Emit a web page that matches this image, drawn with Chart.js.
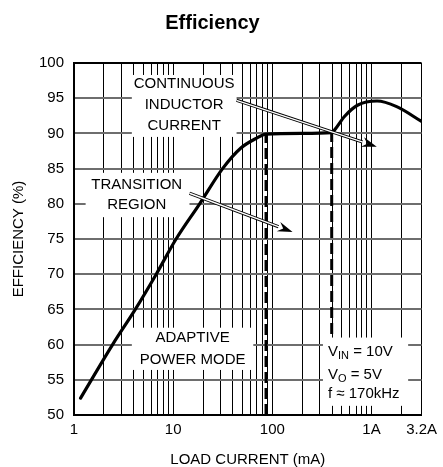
<!DOCTYPE html>
<html>
<head>
<meta charset="utf-8">
<script src="https://cdn.jsdelivr.net/npm/chart.js@4/dist/chart.umd.min.js"></script>
<style>
    html, body { margin: 0; padding: 0; background: #fff; }
</style>
</head>
<body>
<canvas id="effChart" width="443" height="467"></canvas>
<script>
// Efficiency curve, load current in mA
const loadCurrent = [1.165, 2.45, 4.15, 6.75, 10.7, 18.5, 31.5, 47.9, 68.8, 86.4, 200, 397, 425, 534, 722, 1138, 1795, 3200];
const efficiency  = [52.4, 60.0, 65.0, 70.0, 75.0, 80.0, 85.0, 87.9, 89.3, 89.9, 90.0, 90.1, 90.5, 92.4, 94.0, 94.6, 93.8, 91.7];

// Dashed mode boundaries: current (mA), bottom and top of each marker (%)
const modeEdges = [86.4, 397];
const edgeBottom = [50, 61.5];
const edgeTop = [89.9, 90.1];

// Log grid and the labelled ticks
const gridCurrents = [1, 2, 3, 4, 5, 6, 7, 8, 9, 10, 20, 30, 40, 50, 60, 70, 80, 90,
    100, 200, 300, 400, 500, 600, 700, 800, 900, 1000, 2000, 3200];
const xTickLabels = { 1: '1', 10: '10', 100: '100', 1000: '1A', 3200: '3.2A' };

const FONT = "'Liberation Sans', Arial, sans-serif";

// Annotation layout, given in chart units (mA, %)
const noteBoxes = [
    { x0: 3.83, x1: 43.6, y0: 89.5, y1: 98.3 },
    { x0: 1.31, x1: 14.6, y0: 78.1, y1: 84.4 },
    { x0: 3.83, x1: 64.3, y0: 56.4, y1: 62.4 },
    { x0: 324, x1: 2343, y0: 51.3, y1: 61.0 }
];
const noteLines = [
    { text: 'CONTINUOUS', x: 12.9, y: 97.1 },
    { text: 'INDUCTOR', x: 12.9, y: 94.0 },
    { text: 'CURRENT', x: 12.9, y: 91.1 },
    { text: 'TRANSITION', x: 4.29, y: 82.7 },
    { text: 'REGION', x: 4.29, y: 79.8 },
    { text: 'ADAPTIVE', x: 15.7, y: 60.9 },
    { text: 'POWER MODE', x: 15.7, y: 57.8 }
];
// left aligned condition block: [main, subscript, rest]
const condLines = [
    { parts: ['V', 'IN', ' = 10V'], y: 58.9 },
    { parts: ['V', 'O', ' = 5V'], y: 55.7 },
    { parts: ['f \u2248 170kHz', '', ''], y: 53.0 }
];
const condX = 364;
const noteArrows = [
    { from: [14.6, 81.5], to: [160, 76.0] },
    { from: [43.6, 94.7], to: [1130, 88.1] }
];

const annotations = {
    id: 'annotations',
    beforeDatasetsDraw(chart) {
        const { ctx, scales: { x, y } } = chart;
        ctx.save();
        ctx.fillStyle = '#fff';
        noteBoxes.forEach(b => {
            const l = x.getPixelForValue(b.x0), r = x.getPixelForValue(b.x1);
            const t = y.getPixelForValue(b.y1), btm = y.getPixelForValue(b.y0);
            ctx.fillRect(l, t, r - l, btm - t);
        });
        ctx.fillStyle = '#000';
        ctx.font = '15px ' + FONT;
        ctx.textAlign = 'center';
        ctx.textBaseline = 'middle';
        noteLines.forEach(n => {
            ctx.fillText(n.text, x.getPixelForValue(n.x), y.getPixelForValue(n.y));
        });
        ctx.textAlign = 'left';
        condLines.forEach(c => {
            let px = x.getPixelForValue(condX);
            const py = y.getPixelForValue(c.y);
            ctx.font = '15px ' + FONT;
            ctx.fillText(c.parts[0], px, py);
            px += ctx.measureText(c.parts[0]).width;
            ctx.font = '11px ' + FONT;
            ctx.fillText(c.parts[1], px, py + 4);
            px += ctx.measureText(c.parts[1]).width;
            ctx.font = '15px ' + FONT;
            ctx.fillText(c.parts[2], px, py);
        });
        ctx.restore();
    },
    afterDatasetsDraw(chart) {
        const { ctx, scales: { x, y } } = chart;
        ctx.save();
        noteArrows.forEach(a => {
            const x1 = x.getPixelForValue(a.from[0]), y1 = y.getPixelForValue(a.from[1]);
            const x2 = x.getPixelForValue(a.to[0]), y2 = y.getPixelForValue(a.to[1]);
            const ang = Math.atan2(y2 - y1, x2 - x1);
            const len = 15;
            const bx = x2 - len * Math.cos(ang), by = y2 - len * Math.sin(ang);
            // hollow shaft
            ctx.lineCap = 'butt';
            ctx.strokeStyle = '#000';
            ctx.lineWidth = 3.2;
            ctx.beginPath(); ctx.moveTo(x1, y1); ctx.lineTo(bx, by); ctx.stroke();
            ctx.strokeStyle = '#fff';
            ctx.lineWidth = 1.4;
            ctx.beginPath(); ctx.moveTo(x1, y1); ctx.lineTo(bx + 2 * Math.cos(ang), by + 2 * Math.sin(ang)); ctx.stroke();
            // head
            ctx.fillStyle = '#000';
            ctx.beginPath();
            ctx.moveTo(x2, y2);
            ctx.lineTo(bx + 5 * Math.sin(ang), by - 5 * Math.cos(ang));
            ctx.lineTo(x2 - 10 * Math.cos(ang), y2 - 10 * Math.sin(ang));
            ctx.lineTo(bx - 5 * Math.sin(ang), by + 5 * Math.cos(ang));
            ctx.closePath();
            ctx.fill();
        });
        ctx.restore();
    }
};

const edgeSets = modeEdges.map((c, i) => ({
    data: [{ x: c, y: edgeBottom[i] }, { x: c, y: edgeTop[i] }],
    borderColor: '#000',
    borderWidth: 3,
    borderDash: [11, 5],
    pointRadius: 0,
    borderCapStyle: 'butt'
}));

new Chart(document.getElementById('effChart'), {
    type: 'line',
    data: {
        datasets: [{
            label: 'Efficiency',
            data: loadCurrent.map((c, i) => ({ x: c, y: efficiency[i] })),
            borderColor: '#000',
            borderWidth: 3.2,
            pointRadius: 0,
            cubicInterpolationMode: 'monotone',
            borderCapStyle: 'round'
        }, ...edgeSets]
    },
    options: {
        responsive: false,
        animation: false,
        layout: { padding: { left: 0, right: 18, top: 0, bottom: 0 } },
        plugins: {
            legend: { display: false },
            tooltip: { enabled: false },
            title: {
                display: true,
                text: 'Efficiency',
                color: '#000',
                font: { family: FONT, size: 20, weight: 'bold', lineHeight: 1.2 },
                padding: { top: 11, bottom: 28 }
            }
        },
        scales: {
            x: {
                type: 'logarithmic',
                min: 1,
                max: 3200,
                afterBuildTicks: (scale) => { scale.ticks = gridCurrents.map(v => ({ value: v })); },
                afterFit: (scale) => { scale.height = 52; },
                grid: { color: '#000', lineWidth: 1, drawTicks: false },
                border: { display: true, color: '#000', width: 2 },
                ticks: {
                    autoSkip: false,
                    maxRotation: 0,
                    padding: 6,
                    color: '#000',
                    font: { family: FONT, size: 15 },
                    callback: (v) => xTickLabels[v] || ''
                },
                title: {
                    display: true,
                    text: 'LOAD CURRENT (mA)',
                    color: '#000',
                    font: { family: FONT, size: 15, lineHeight: 1 },
                    padding: 0
                }
            },
            y: {
                min: 50,
                max: 100,
                afterFit: (scale) => { scale.width = 74; },
                grid: {
                    color: (c) => (c.tick && c.tick.value === 100 ? '#000' : '#6e6e6e'),
                    lineWidth: 2,
                    drawTicks: false
                },
                border: { display: true, color: '#000', width: 2 },
                ticks: {
                    stepSize: 5,
                    padding: 10,
                    color: '#000',
                    font: { family: FONT, size: 15 }
                },
                title: {
                    display: true,
                    text: 'EFFICIENCY (%)',
                    color: '#000',
                    font: { family: FONT, size: 15, lineHeight: 1 },
                    padding: { top: 11, bottom: 0 }
                }
            }
        }
    },
    plugins: [annotations]
});
</script>
</body>
</html>
